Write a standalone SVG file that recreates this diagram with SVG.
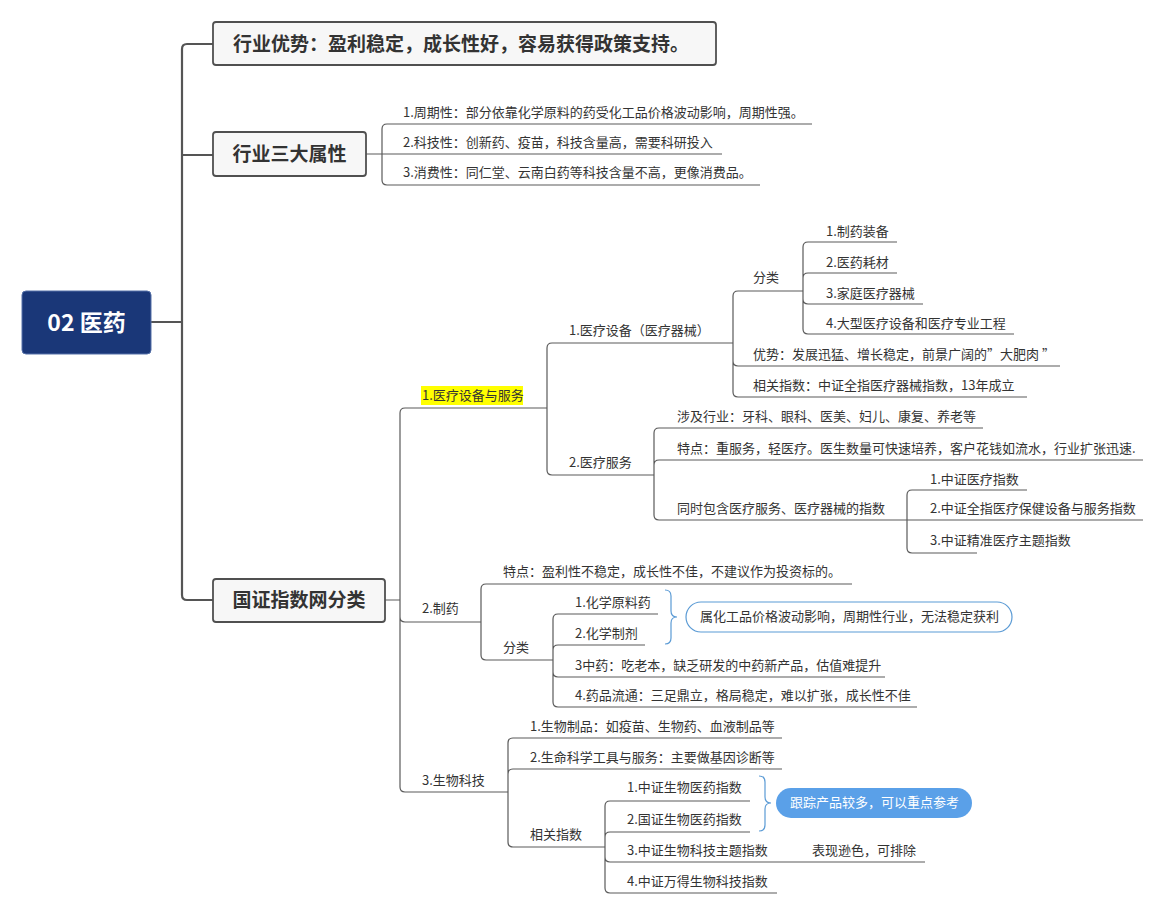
<svg xmlns="http://www.w3.org/2000/svg" width="1165" height="914" viewBox="0 0 1165 914">
<style>
text{font-family:"Noto Sans CJK SC","Noto Sans",sans-serif;}
.t{font-size:13px;fill:#333;}
.b{font-size:19px;font-weight:bold;fill:#333;}
.box{fill:#f7f7f7;stroke:#505050;stroke-width:1.8;}
.ln{fill:none;stroke:#5a5a5a;stroke-width:1.2;}
.tr{fill:none;stroke:#555;stroke-width:2.2;}
.bl{fill:none;stroke:#5b9bd5;stroke-width:1.2;}
</style>
<rect width="1165" height="914" fill="#fff"/>
<g id="connectors">
<path class="tr" d="M151,322 L182,322 M182,155 L213,155 M187,44 Q182,44 182,49 L182,595 Q182,600 187,600 L213,600 M187,44 L213,44"/>
<path class="ln" d="M366,154 L722,154 M382,154 L382,129 Q382,124 387,124 L812,124 M382,154 L382,180 Q382,185 387,185 L760,185"/>
<path class="ln" d="M385,600 L400,600 M400,600 L400,413 Q400,408 405,408 L547,408 M400,600 L400,617 Q400,622 405,622 L481,622 M400,600 L400,787 Q400,792 405,792 L508,792"/>
<path class="ln" d="M547,408 L547,348 Q547,343 552,343 L733,343 M547,408 L547,470 Q547,475 552,475 L654,475"/>
<path class="ln" d="M733,343 L733,296 Q733,291 738,291 L803,291 M733,343 L733,361 Q733,366 738,366 L1060,366 M733,343 L733,392 Q733,397 738,397 L1027,397"/>
<path class="ln" d="M803,291 L803,247 Q803,242 808,242 L897,242 M803,291 L803,278 Q803,273 808,273 L897,273 M803,291 L803,299 Q803,304 808,304 L923,304 M803,291 L803,329 Q803,334 808,334 L1014,334"/>
<path class="ln" d="M654,475 L654,433 Q654,428 659,428 L983,428 M654,475 L654,465 Q654,460 659,460 L1143,460 M654,475 L654,515 Q654,520 659,520 L907,520"/>
<path class="ln" d="M907,520 L907,495 Q907,490 912,490 L1027,490 M907,520 L1143,520 M907,520 L907,548 Q907,553 912,553 L977,553"/>
<path class="ln" d="M481,622 L481,589 Q481,584 486,584 L852,584 M481,622 L481,655 Q481,660 486,660 L553,660"/>
<path class="ln" d="M553,660 L553,619 Q553,614 558,614 L658,614 M553,660 L553,650 Q553,645 558,645 L645,645 M553,660 L553,672 Q553,677 558,677 L885,677 M553,660 L553,702 Q553,707 558,707 L917,707"/>
<path class="ln" d="M508,792 L508,743 Q508,738 513,738 L782,738 M508,792 L508,774 Q508,769 513,769 L782,769 M508,792 L508,842 Q508,847 513,847 L605,847"/>
<path class="ln" d="M605,847 L605,806 Q605,801 610,801 L750,801 M605,847 L605,837 Q605,832 610,832 L750,832 M605,847 L605,857 Q605,862 610,862 L925,862 M605,847 L605,888 Q605,893 610,893 L777,893"/>
<path class="bl" d="M665,590 Q671,590 671,596 L671,611 Q671,617 677,617 Q671,617 671,623 L671,638 Q671,644 665,644"/>
<path class="bl" d="M759,776 Q765,776 765,782 L765,797 Q765,803 771,803 Q765,803 765,809 L765,825 Q765,831 759,831"/>
</g>
<g id="root">
<rect x="22" y="291" width="129" height="63" rx="4" fill="#1a3778" stroke="#5470a8" stroke-width="1"/>
<text x="86.5" y="331" text-anchor="middle" font-size="23" font-weight="bold" fill="#fff">02 医药</text>
</g>
<g id="n-advantage">
<rect class="box" x="213" y="22" width="503" height="43" rx="3"/>
<text class="b" x="233" y="51" font-size="18.6">行业优势：盈利稳定，成长性好，容易获得政策支持。</text>
</g>
<g id="n-attrs">
<rect class="box" x="213" y="132" width="153" height="44" rx="3"/>
<text class="b" x="289.5" y="161" text-anchor="middle">行业三大属性</text>
<text class="t" x="403" y="117">1.周期性：部分依靠化学原料的药受化工品价格波动影响，周期性强。</text>
<text class="t" x="403" y="147">2.科技性：创新药、疫苗，科技含量高，需要科研投入</text>
<text class="t" x="403" y="177">3.消费性：同仁堂、云南白药等科技含量不高，更像消费品。</text>
</g>
<g id="n-cni">
<rect class="box" x="213" y="579" width="172" height="43" rx="3"/>
<text class="b" x="299" y="607" text-anchor="middle">国证指数网分类</text>
</g>
<g id="n-med-device-service">
<rect x="421" y="386" width="102" height="19" fill="#ffff00"/>
<text class="t" x="422" y="400" fill="#222">1.医疗设备与服务</text>
</g>
<g id="n-med-device">
<text class="t" x="569" y="335">1.医疗设备（医疗器械）</text>
<text class="t" x="753" y="282">分类</text>
<text class="t" x="826" y="236">1.制药装备</text>
<text class="t" x="826" y="267">2.医药耗材</text>
<text class="t" x="826" y="298">3.家庭医疗器械</text>
<text class="t" x="826" y="328">4.大型医疗设备和医疗专业工程</text>
<text class="t" x="753" y="359">优势：发展迅猛、增长稳定，前景广阔的”大肥肉 ”</text>
<text class="t" x="753" y="390">相关指数：中证全指医疗器械指数，13年成立</text>
</g>
<g id="n-med-service">
<text class="t" x="569" y="467">2.医疗服务</text>
<text class="t" x="677" y="421">涉及行业：牙科、眼科、医美、妇儿、康复、养老等</text>
<text class="t" x="677" y="453">特点：重服务，轻医疗。医生数量可快速培养，客户花钱如流水，行业扩张迅速.</text>
<text class="t" x="677" y="513">同时包含医疗服务、医疗器械的指数</text>
<text class="t" x="930" y="484">1.中证医疗指数</text>
<text class="t" x="930" y="513">2.中证全指医疗保健设备与服务指数</text>
<text class="t" x="930" y="545">3.中证精准医疗主题指数</text>
</g>
<g id="n-pharma">
<text class="t" x="422" y="613">2.制药</text>
<text class="t" x="503" y="576">特点：盈利性不稳定，成长性不佳，不建议作为投资标的。</text>
<text class="t" x="503" y="652">分类</text>
<text class="t" x="575" y="607">1.化学原料药</text>
<text class="t" x="575" y="638">2.化学制剂</text>
<text class="t" x="575" y="670">3中药：吃老本，缺乏研发的中药新产品，估值难提升</text>
<text class="t" x="575" y="700">4.药品流通：三足鼎立，格局稳定，难以扩张，成长性不佳</text>
</g>
<g id="n-pharma-note">
<rect x="686" y="602" width="326" height="30" rx="15" fill="#fff" stroke="#5b9bd5" stroke-width="1.2"/>
<text class="t" x="700" y="621">属化工品价格波动影响，周期性行业，无法稳定获利</text>
</g>
<g id="n-biotech">
<text class="t" x="422" y="785">3.生物科技</text>
<text class="t" x="530" y="731">1.生物制品：如疫苗、生物药、血液制品等</text>
<text class="t" x="530" y="762">2.生命科学工具与服务：主要做基因诊断等</text>
<text class="t" x="530" y="839">相关指数</text>
<text class="t" x="627" y="792">1.中证生物医药指数</text>
<text class="t" x="627" y="824">2.国证生物医药指数</text>
<text class="t" x="627" y="855">3.中证生物科技主题指数</text>
<text class="t" x="812" y="855">表现逊色，可排除</text>
<text class="t" x="627" y="886">4.中证万得生物科技指数</text>
</g>
<g id="n-biotech-note">
<rect x="776" y="788" width="196" height="30" rx="15" fill="#5aa0e8"/>
<text class="t" x="790" y="807" fill="#fff" style="fill:#fff">跟踪产品较多，可以重点参考</text>
</g>
</svg>
